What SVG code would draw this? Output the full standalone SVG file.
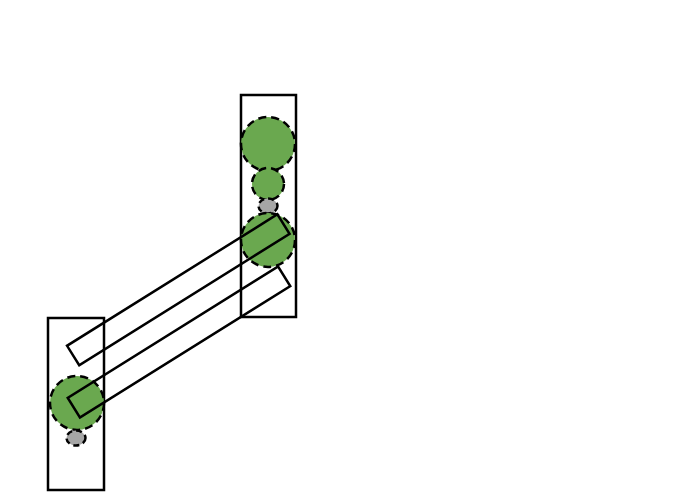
<svg xmlns="http://www.w3.org/2000/svg" width="690" height="500" viewBox="0 0 690 500">
<style>
.box{fill:none;stroke:#000;stroke-width:2.5}
.g{fill:#6aa84f;stroke:#000;stroke-width:2.5;stroke-dasharray:8 5}
.s{fill:#a6a6a6;stroke:#000;stroke-width:2.5;stroke-dasharray:6 4}
</style>
<rect width="690" height="500" fill="#fff"/>
<g id="right-column">
<rect class="box" x="241" y="95" width="55" height="222"/>
<circle class="g" cx="268" cy="144" r="27"/>
<circle class="g" cx="268" cy="184" r="16"/>
<ellipse class="s" cx="268" cy="206" rx="9.5" ry="7.5"/>
<circle class="g" cx="268" cy="240" r="27"/>
</g>
<g id="left-column">
<rect class="box" x="48" y="318" width="56" height="172"/>
<circle class="g" cx="77" cy="403" r="27"/>
<ellipse class="s" cx="76" cy="438" rx="9.5" ry="7.5"/>
</g>
<g id="connectors">
<rect class="box" x="-124" y="-11.5" width="248" height="23" transform="translate(178.3 289.8) rotate(-32)"/>
<rect class="box" x="-124" y="-11.5" width="248" height="23" transform="translate(179 342) rotate(-32)"/>
</g>
</svg>
